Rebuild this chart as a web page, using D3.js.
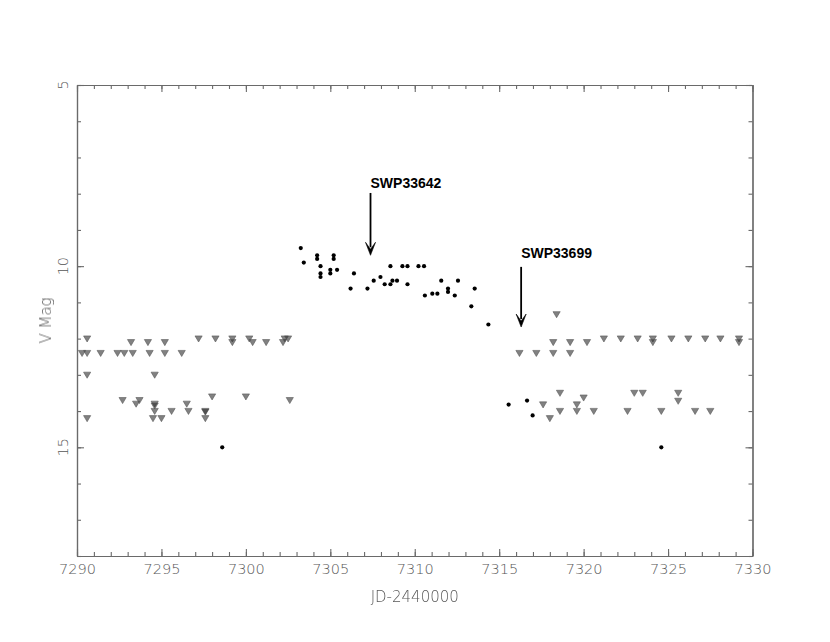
<!DOCTYPE html>
<html>
<head>
<meta charset="utf-8">
<script src="https://cdn.jsdelivr.net/npm/d3@7"></script>
<style>
  html, body { margin: 0; padding: 0; background: #fff; }
  svg { display: block; }
  .lbl { opacity: 0.99; }
</style>
</head>
<body>
<svg id="chart" width="830" height="642"></svg>
<script>
// ---------- data ----------
const triJD = [
  7290.6, 7293.2, 7294.2, 7295.2, 7297.2, 7298.2, 7299.2, 7299.2, 7300.2, 7300.4, 7301.2, 7302.2, 7302.3, 7302.5,
  7290.3, 7290.6, 7291.4, 7292.4, 7292.8, 7293.3, 7294.3, 7295.2, 7296.2,
  7290.6, 7294.6,
  7298.0, 7300.0, 7292.7, 7293.7, 7302.6, 7293.5, 7294.6, 7294.6, 7296.5,
  7294.6, 7295.6, 7296.6, 7297.6, 7297.6,
  7290.6, 7294.5, 7295.0, 7297.6,
  7318.4,
  7316.2, 7317.2, 7318.2, 7319.2,
  7318.2, 7319.2, 7320.2,
  7321.2, 7322.2, 7323.2, 7324.1, 7325.2, 7326.2, 7327.2, 7328.1, 7329.2,
  7324.1, 7329.2,
  7318.6, 7323.0, 7323.5, 7325.6,
  7320.0, 7325.6, 7317.6, 7319.6,
  7318.6, 7319.6, 7320.6, 7322.6, 7324.6, 7326.6, 7327.5,
  7318.0
];
const triMag = [
  12.0, 12.1, 12.1, 12.1, 12.0, 12.0, 12.0, 12.1, 12.0, 12.1, 12.1, 12.1, 12.0, 12.0,
  12.4, 12.4, 12.4, 12.4, 12.4, 12.4, 12.4, 12.4, 12.4,
  13.0, 13.0,
  13.6, 13.6, 13.7, 13.7, 13.7, 13.8, 13.8, 13.85, 13.8,
  14.0, 14.0, 14.0, 14.0, 14.02,
  14.2, 14.2, 14.2, 14.2,
  11.33,
  12.4, 12.4, 12.4, 12.4,
  12.1, 12.1, 12.1,
  12.0, 12.0, 12.0, 12.0, 12.0, 12.0, 12.0, 12.0, 12.0,
  12.1, 12.1,
  13.5, 13.5, 13.5, 13.5,
  13.63, 13.72, 13.82, 13.82,
  14.0, 14.0, 14.0, 14.0, 14.0, 14.0, 14.0,
  14.2
];
const dotJD = [
  7303.25, 7303.43, 7304.22, 7304.22, 7304.42, 7304.42, 7304.42, 7305.2, 7305.2, 7305.0, 7305.0, 7305.4,
  7306.2, 7306.4, 7307.2, 7307.57, 7307.97, 7308.22, 7308.56, 7308.56, 7308.68, 7308.95, 7309.27, 7309.57,
  7309.57, 7310.22, 7310.55, 7310.6, 7311.04, 7311.34, 7311.57, 7311.97, 7311.97, 7312.37, 7312.56, 7313.35,
  7313.55, 7314.36, 7298.6, 7315.56, 7316.65, 7316.98, 7324.6
];
const dotMag = [
  9.5, 9.9, 9.7, 9.8, 10.0, 10.2, 10.3, 9.7, 9.8, 10.1, 10.2, 10.1,
  10.62, 10.2, 10.62, 10.4, 10.3, 10.5, 10.5, 10.0, 10.4, 10.4, 10.0, 10.0,
  10.5, 10.0, 10.0, 10.81, 10.76, 10.76, 10.4, 10.62, 10.71, 10.81, 10.4, 11.11,
  10.62, 11.61, 15.0, 13.82, 13.71, 14.12, 15.0
];
// annotations (SWP spectra)
const annText = ["SWP33642", "SWP33699"];
const annJD = [7307.38, 7316.3];
const annTextMag = [7.85, 9.78];
const annArrowTop = [7.98, 10.02];
const annArrowTip = [9.7, 11.68];

const xMajorTicks = [7290, 7295, 7300, 7305, 7310, 7315, 7320, 7325, 7330];
const yMajorTicks = [5, 10, 15];

// ---------- layout ----------
const svg = d3.select("#chart");
const L = 77, R = 752.5, T = 85, B = 556;
const x = d3.scaleLinear().domain([7290, 7330]).range([L, R]);
const y = d3.scaleLinear().domain([5, 18]).range([T, B]);
const axisCol = "#6a6a6a";
const labelCol = "#555555";
const labelFont = "DejaVu Sans";

const xMinor = d3.range(7290, 7331, 1);
const yMinor = d3.range(5, 18.01, 1);

function styleAxis(g) {
  g.selectAll("path").attr("stroke", axisCol).attr("stroke-width", 1.2);
  g.selectAll("line").attr("stroke", axisCol).attr("stroke-width", 1.1);
}

// bottom
svg.append("g").attr("transform", `translate(0,${B})`)
  .call(d3.axisBottom(x).tickValues(xMinor).tickSize(-4).tickSizeOuter(0).tickFormat(""))
  .call(styleAxis);
const bx = svg.append("g").attr("class", "lbl").attr("transform", `translate(0,${B})`)
  .call(d3.axisBottom(x).tickValues(xMajorTicks).tickSize(-7).tickSizeOuter(0).tickPadding(8).tickFormat(d3.format("d")))
  .call(styleAxis);
bx.selectAll("text").attr("fill", labelCol).attr("font-family", labelFont).attr("font-weight", 200).attr("font-size", 14.5);
bx.select(".domain").remove();
// top
svg.append("g").attr("transform", `translate(0,${T})`)
  .call(d3.axisTop(x).tickValues(xMinor).tickSize(-4).tickSizeOuter(0).tickFormat(""))
  .call(styleAxis);
svg.append("g").attr("transform", `translate(0,${T})`)
  .call(d3.axisTop(x).tickValues(xMajorTicks).tickSize(-7).tickSizeOuter(0).tickFormat(""))
  .call(styleAxis);
// left
svg.append("g").attr("transform", `translate(${L},0)`)
  .call(d3.axisLeft(y).tickValues(yMinor).tickSize(-4).tickSizeOuter(0).tickFormat(""))
  .call(styleAxis);
svg.append("g").attr("transform", `translate(${L},0)`)
  .call(d3.axisLeft(y).tickValues(yMajorTicks).tickSize(-7).tickSizeOuter(0).tickFormat(""))
  .call(styleAxis);
// right
svg.append("g").attr("transform", `translate(${R},0)`)
  .call(d3.axisRight(y).tickValues(yMinor).tickSize(-4).tickSizeOuter(0).tickFormat(""))
  .call(styleAxis);
svg.append("g").attr("transform", `translate(${R},0)`)
  .call(d3.axisRight(y).tickValues(yMajorTicks).tickSize(-7).tickSizeOuter(0).tickFormat(""))
  .call(styleAxis);

// y tick labels (rotated)
svg.append("g").attr("class", "lbl").selectAll("text").data(yMajorTicks).join("text")
  .attr("transform", d => `translate(${L - 9},${y(d)}) rotate(-90)`)
  .attr("text-anchor", "middle")
  .attr("fill", labelCol).attr("font-family", labelFont).attr("font-weight", 200).attr("font-size", 14.5)
  .text(d => d);

// axis titles
const titles = svg.append("g").attr("class", "lbl");
titles.append("text")
  .attr("x", (L + R) / 2).attr("y", 602)
  .attr("text-anchor", "middle")
  .attr("fill", labelCol).attr("font-family", labelFont).attr("font-weight", 200).attr("font-size", 15)
  .text("JD-2440000");
titles.append("text")
  .attr("transform", `translate(51,${(T + B) / 2}) rotate(-90)`)
  .attr("text-anchor", "middle")
  .attr("fill", labelCol).attr("font-family", labelFont).attr("font-weight", 200).attr("font-size", 15)
  .text("V Mag");

// ---------- marks ----------
const triData = triJD.map((d, i) => ({ jd: d, mag: triMag[i] }));
const dotData = dotJD.map((d, i) => ({ jd: d, mag: dotMag[i] }));

svg.append("g").selectAll("path").data(triData).join("path")
  .attr("transform", d => `translate(${x(d.jd)},${y(d.mag)})`)
  .attr("d", "M-3.6,-2.7 L3.6,-2.7 L0,3.4 Z")
  .attr("fill", "#333").attr("fill-opacity", 0.62)
  .attr("stroke", "#555").attr("stroke-width", 0.7).attr("stroke-opacity", 0.8);

svg.append("g").selectAll("circle").data(dotData).join("circle")
  .attr("cx", d => x(d.jd)).attr("cy", d => y(d.mag)).attr("r", 2.1)
  .attr("fill", "#000");

// annotations
const ann = annText.map((t, i) => ({ t, jd: annJD[i], tm: annTextMag[i], a0: annArrowTop[i], a1: annArrowTip[i] }));
const ag = svg.append("g");
ann.forEach(a => {
  ag.append("text").attr("x", x(a.jd)).attr("y", y(a.tm))
    .attr("font-family", "Liberation Sans, Arial, sans-serif").attr("font-weight", "bold").attr("font-size", 14)
    .attr("fill", "#000").text(a.t);
  ag.append("line").attr("x1", x(a.jd)).attr("x2", x(a.jd))
    .attr("y1", y(a.a0)).attr("y2", y(a.a1) - 8)
    .attr("stroke", "#000").attr("stroke-width", 1.8);
  const tx = x(a.jd), ty = y(a.a1);
  ag.append("path").attr("d", `M${tx - 5},${ty - 13} L${tx},${ty - 6} L${tx + 5},${ty - 13} L${tx},${ty} Z`)
    .attr("fill", "#000").attr("stroke", "#000").attr("stroke-width", 0.6).attr("stroke-linejoin", "round");
});
</script>
</body>
</html>
